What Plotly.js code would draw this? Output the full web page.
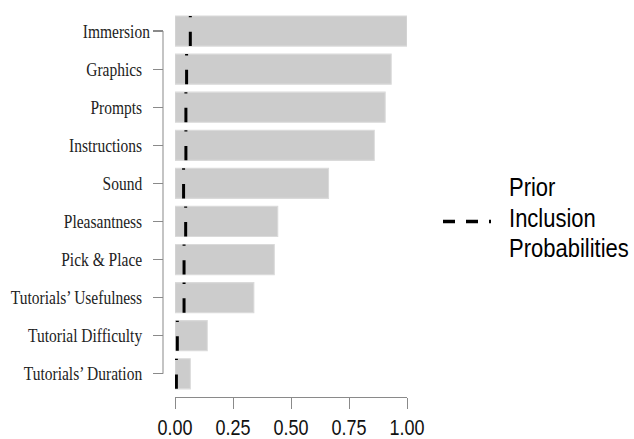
<!DOCTYPE html>
<html>
<head>
<meta charset="utf-8">
<script src="https://cdn.plot.ly/plotly-3.0.1.min.js"></script>
<style>
  html, body { margin: 0; padding: 0; background: #ffffff; width: 634px; height: 439px; }
  #chart { width: 634px; height: 366px; transform: scale(1, 1.1995); transform-origin: 0 0; }
</style>
</head>
<body>
<div id="chart"></div>
<script>
// ---- data ----
const categories = ['Immersion', 'Graphics', 'Prompts', 'Instructions', 'Sound',
  'Pleasantness', 'Pick & Place', 'Tutorials\u2019 Usefulness', 'Tutorial Difficulty', 'Tutorials\u2019 Duration'];
const posteriorInclusion = [1.000, 0.932, 0.906, 0.859, 0.662, 0.443, 0.428, 0.340, 0.139, 0.066];
const priorInclusion = [0.066, 0.050, 0.047, 0.047, 0.037, 0.046, 0.039, 0.039, 0.010, 0.006];
const xTickValues = [0, 0.25, 0.5, 0.75, 1];
const xTickLabels = ['0.00', '0.25', '0.50', '0.75', '1.00'];
const legendLines = ['Prior', 'Inclusion', 'Probabilities'];

// ---- build ----
const n = categories.length;
const pos = categories.map((c, i) => n - 1 - i);   // Immersion on top
const barWidth = 0.79;
// the original labels (except the first) carry a little trailing space
const yTickText = categories.map((c, i) => i === 0 ? c : c + '\u00a0\u00a0');

const traces = [{
  type: 'bar',
  orientation: 'h',
  x: posteriorInclusion,
  y: pos,
  width: barWidth,
  marker: { color: '#cccccc', line: { color: '#dadada', width: 1 } },
  hoverinfo: 'skip',
  showlegend: false
}];

priorInclusion.forEach((p, i) => {
  traces.push({
    type: 'scatter',
    mode: 'lines',
    x: [p, p],
    y: [pos[i] - barWidth / 2, pos[i] + barWidth / 2],  // drawn bottom -> top
    line: { color: '#000000', width: 3, dash: '12px,12px' },
    hoverinfo: 'skip',
    showlegend: false
  });
});

const axisGray = '#8a8a8a';
const H = 366, T = 9.7, B = 34.8, L = 163, R = 227;
const plotH = H - T - B;
const toPaperY = (imgY) => (H - B - imgY / 1.1995) / plotH;
const toPaperX = (imgX) => (imgX - L) / (634 - L - R);

const shapes = [{
  type: 'line', xref: 'paper', yref: 'y',
  x0: 0, x1: 0, y0: 0, y1: n - 1,
  line: { color: axisGray, width: 1 }
}, {
  type: 'line', xref: 'paper', yref: 'paper',
  x0: toPaperX(443), x1: toPaperX(491), y0: toPaperY(221.5), y1: toPaperY(221.5),
  line: { color: '#000000', width: 3, dash: '12px,11px' }
}];

const legendCenters = [187, 218, 248];
const annotations = legendLines.map((t, k) => ({
  text: t, xref: 'paper', yref: 'paper',
  x: toPaperX(507), y: toPaperY(legendCenters[k]),
  xanchor: 'left', yanchor: 'middle', showarrow: false,
  font: { family: 'Liberation Sans, Arial, sans-serif', size: 22, color: '#000000' }
}));

const layout = {
  width: 634, height: H,
  margin: { l: L, r: R, t: T, b: B, pad: 0 },
  paper_bgcolor: '#ffffff', plot_bgcolor: '#ffffff',
  showlegend: false,
  xaxis: {
    range: [0, 1], domain: [12 / 244, 1], anchor: 'free', position: 0,
    showline: true, linecolor: axisGray, linewidth: 1,
    ticks: 'outside', ticklen: 9, tickcolor: axisGray, tickwidth: 1,
    tickvals: xTickValues, ticktext: xTickLabels,
    tickfont: { family: 'Liberation Sans, Arial, sans-serif', size: 18, color: '#111111' },
    showgrid: false, zeroline: false, fixedrange: true
  },
  yaxis: {
    range: [-0.5, n - 0.5], domain: [3.5 / plotH, 1], anchor: 'free', position: 0,
    showline: false,
    ticks: 'outside', ticklen: 10, tickcolor: axisGray, tickwidth: 1,
    tickvals: pos, ticktext: yTickText,
    tickfont: { family: 'Liberation Serif, Times New Roman, serif', size: 15.5, color: '#222222' },
    ticklabelstandoff: 0,
    showgrid: false, zeroline: false, fixedrange: true
  },
  shapes: shapes,
  annotations: annotations
};

Plotly.newPlot('chart', traces, layout, { displayModeBar: false, staticPlot: true });
</script>
</body>
</html>
